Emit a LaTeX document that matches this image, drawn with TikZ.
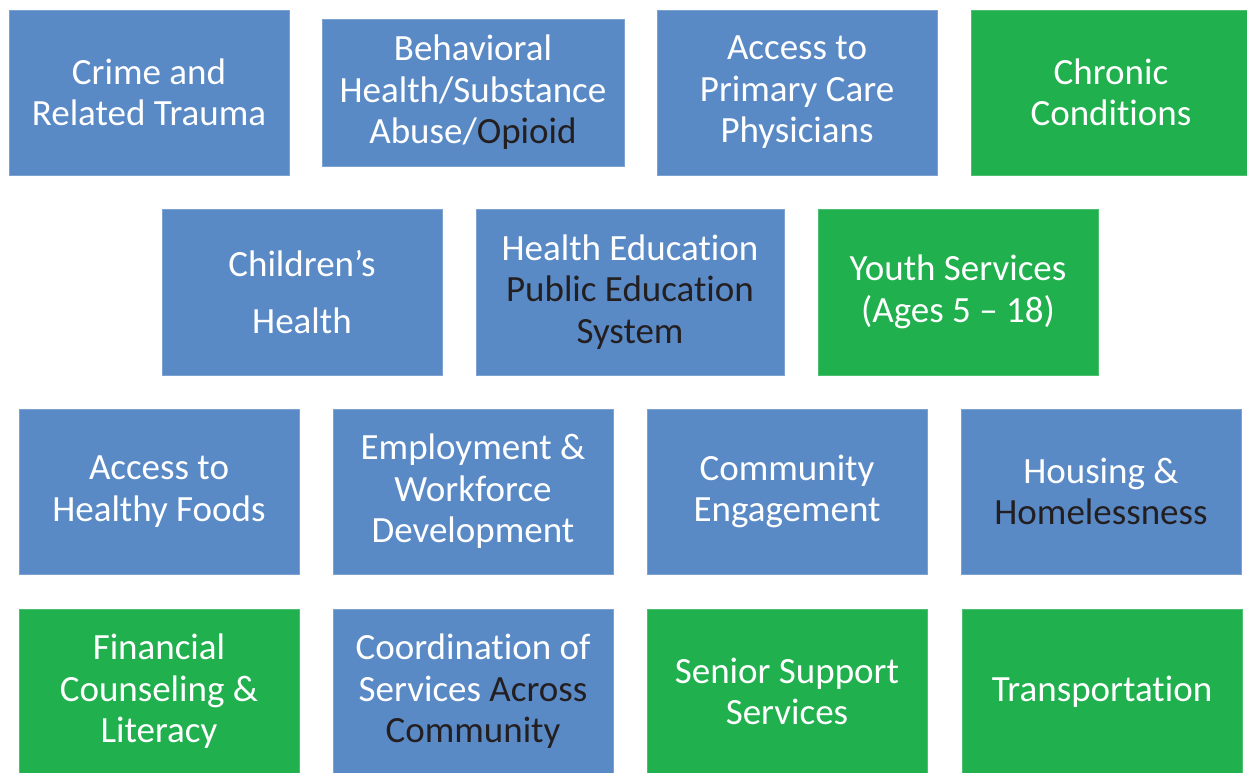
\documentclass[tikz,border=0pt]{standalone}
\usepackage{fontspec}
\setmainfont{Carlito}[Ligatures={NoCommon}]
\definecolor{tileblue}{HTML}{5A8AC6}
\definecolor{tileblueedge}{HTML}{7DA2D2}
\definecolor{tilegreen}{HTML}{21B04E}
\definecolor{tilegreenedge}{HTML}{4CC070}
\definecolor{darktext}{HTML}{231F20}
\tikzset{
  tile/.style={rectangle, inner sep=0pt, align=center, text=white,
    font=\fontsize{37}{41.5}\selectfont, line width=0.8pt},
  bluetile/.style={tile, fill=tileblue, draw=tileblueedge},
  greentile/.style={tile, fill=tilegreen, draw=tilegreenedge},
  std/.style={minimum width=280pt, minimum height=165pt},
}
\begin{document}
\begin{tikzpicture}[x=1pt,y=-1pt]
\useasboundingbox (0,0) rectangle (1247,773);
\fill[white] (0,0) rectangle (1247,773);
% row 1
\node[bluetile, std] (crime) at (149,92.5) {Crime and\\Related Trauma};
\node[bluetile, minimum width=302pt, minimum height=147pt] (behav) at (473,92.5) {Behavioral\\Health/Substance\\Abuse/\textcolor{darktext}{Opioid}};
\node[bluetile, std] (pcp) at (797,92.5) {Access to\\Primary Care\\Physicians};
\node[greentile, std] (chronic) at (1111,92.5) {Chronic\\Conditions};
% row 2
\node[bluetile, minimum width=280pt, minimum height=166pt] (children) at (302,292) {Children’s\\[16pt]Health};
\node[bluetile, minimum width=308pt, minimum height=166pt] (healthed) at (630,292) {Health Education\\\textcolor{darktext}{Public Education}\\\textcolor{darktext}{System}};
\node[greentile, minimum width=280pt, minimum height=166pt] (youth) at (958,292) {Youth Services\\(Ages 5 – 18)};
% row 3
\node[bluetile, std] (foods) at (159,491.5) {Access to\\Healthy Foods};
\node[bluetile, std] (employ) at (473,491.5) {Employment \&\\Workforce\\Development};
\node[bluetile, std] (community) at (787,491.5) {Community\\Engagement};
\node[bluetile, std] (housing) at (1101,491.5) {Housing \&\\\textcolor{darktext}{Homelessness}};
% row 4
\node[greentile, std] (financial) at (159,691.5) {Financial\\Counseling \&\\Literacy};
\node[bluetile, std] (coord) at (473,691.5) {Coordination of\\Services \textcolor{darktext}{Across}\\\textcolor{darktext}{Community}};
\node[greentile, std] (senior) at (787,691.5) {Senior Support\\Services};
\node[greentile, std] (transport) at (1102,691.5) {Transportation};
\end{tikzpicture}
\end{document}
